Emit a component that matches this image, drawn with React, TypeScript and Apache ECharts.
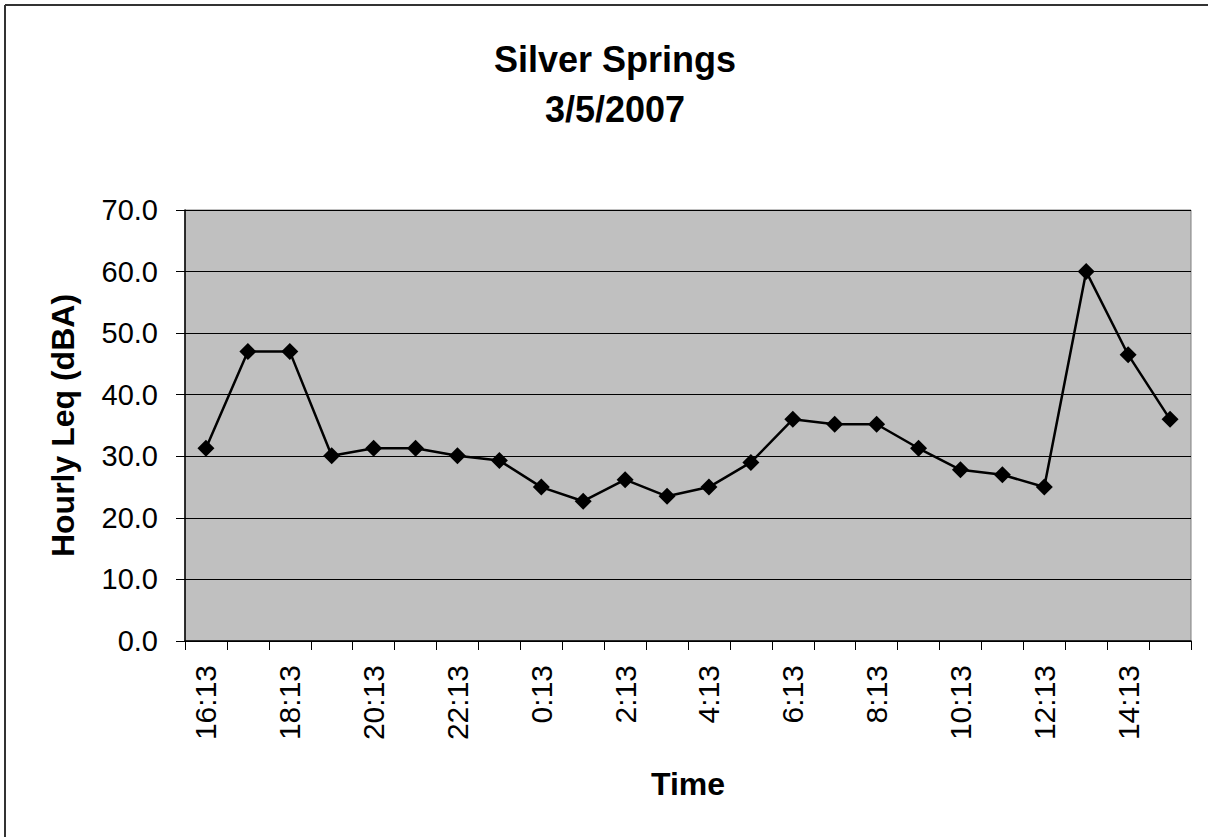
import React, { useEffect, useRef } from "react";
import * as echarts from "echarts";

const categories = [
  "16:13", "17:13", "18:13", "19:13", "20:13", "21:13", "22:13", "23:13",
  "0:13", "1:13", "2:13", "3:13", "4:13", "5:13", "6:13", "7:13",
  "8:13", "9:13", "10:13", "11:13", "12:13", "13:13", "14:13", "15:13",
];
const leqValues = [
  31.3, 47.0, 47.0, 30.1, 31.3, 31.3, 30.1, 29.3,
  25.0, 22.7, 26.2, 23.5, 25.0, 29.0, 36.0, 35.2,
  35.2, 31.3, 27.8, 27.0, 25.0, 60.0, 46.5, 36.0,
];
const titleText = "Silver Springs\n3/5/2007";
const yAxisName = "Hourly Leq (dBA)";
const xAxisName = "Time";

const FONT = "'Liberation Sans', Arial, sans-serif";

export default function App() {
  const ref = useRef<HTMLDivElement>(null);
  useEffect(() => {
    if (!ref.current) return;
    const chart = echarts.init(ref.current, undefined, { renderer: "svg" });
    chart.setOption({
      animation: false,
      backgroundColor: "#ffffff",
      title: {
        text: titleText,
        left: 610,
        top: 29,
        textAlign: "center",
        textStyle: {
          fontFamily: FONT,
          fontSize: 36,
          fontWeight: "bold",
          color: "#000",
          lineHeight: 50,
        },
      },
      graphic: [
        { type: "line", shape: { x1: 5, y1: 5, x2: 5, y2: 837 }, style: { stroke: "#333", lineWidth: 2 } },
        { type: "line", shape: { x1: 5, y1: 5, x2: 1208, y2: 5 }, style: { stroke: "#333", lineWidth: 2 } },
      ],
      grid: {
        left: 185,
        top: 210,
        width: 1006,
        height: 431,
        show: true,
        backgroundColor: "#c0c0c0",
        borderColor: "#808080",
        borderWidth: 1,
      },
      xAxis: {
        type: "category",
        data: categories,
        boundaryGap: true,
        name: xAxisName,
        nameLocation: "middle",
        nameGap: 143,
        nameTextStyle: {
          fontFamily: FONT,
          fontSize: 32,
          fontWeight: "bold",
          color: "#000",
          verticalAlign: "middle",
        },
        axisLine: { lineStyle: { color: "#000", width: 1.5 } },
        axisTick: { show: true, inside: false, length: 9, interval: 0, lineStyle: { color: "#000" } },
        axisLabel: {
          interval: 1,
          rotate: 90,
          margin: 24,
          fontFamily: FONT,
          fontSize: 30,
          color: "#000",
        },
        splitLine: { show: false },
      },
      yAxis: {
        type: "value",
        min: 0,
        max: 70,
        interval: 10,
        name: yAxisName,
        nameLocation: "middle",
        nameGap: 122,
        nameRotate: 90,
        nameTextStyle: {
          fontFamily: FONT,
          fontSize: 32,
          fontWeight: "bold",
          color: "#000",
          align: "center",
          verticalAlign: "middle",
        },
        axisLine: { show: true, lineStyle: { color: "#000", width: 1.5 } },
        axisTick: { show: true, inside: false, length: 9, lineStyle: { color: "#000" } },
        axisLabel: {
          margin: 27,
          fontFamily: FONT,
          fontSize: 29,
          color: "#000",
          formatter: (v: number) => v.toFixed(1),
        },
        splitLine: { show: true, lineStyle: { color: "#000", width: 1 } },
      },
      series: [
        {
          type: "line",
          data: leqValues,
          symbol: "diamond",
          symbolSize: 17,
          lineStyle: { color: "#000", width: 2.5 },
          itemStyle: { color: "#000" },
        },
      ],
    });
    return () => chart.dispose();
  }, []);
  return (
    <div
      ref={ref}
      style={{ position: "fixed", left: 0, top: 0, width: 1208, height: 837 }}
    />
  );
}
